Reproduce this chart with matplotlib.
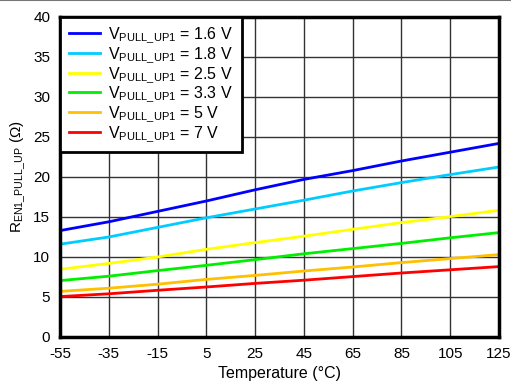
import numpy as np
import matplotlib.pyplot as plt

plt.rcParams['font.family'] = ['Liberation Sans', 'DejaVu Sans']
plt.rcParams['mathtext.fontset'] = 'custom'
plt.rcParams['mathtext.rm'] = 'Liberation Sans'
plt.rcParams['axes.unicode_minus'] = False

temps = [-55, -35, -15, 5, 25, 45, 65, 85, 105, 125]

r_1v6 = [13.3, 14.4, 15.7, 17.0, 18.4, 19.7, 20.8, 22.0, 23.1, 24.2]
r_1v8 = [11.6, 12.5, 13.7, 14.9, 16.0, 17.1, 18.25, 19.3, 20.3, 21.25]
r_2v5 = [8.46, 9.2, 10.0, 10.96, 11.8, 12.6, 13.46, 14.3, 15.05, 15.84]
r_3v3 = [7.05, 7.6, 8.3, 8.96, 9.67, 10.4, 11.05, 11.7, 12.4, 13.05]
r_5v = [5.7, 6.1, 6.6, 7.2, 7.7, 8.25, 8.75, 9.3, 9.8, 10.3]
r_7v = [5.05, 5.4, 5.84, 6.25, 6.7, 7.1, 7.55, 8.0, 8.4, 8.8]

labels = ['1.6 V', '1.8 V', '2.5 V', '3.3 V', '5 V', '7 V']
colors = ['#0000ff', '#00ccff', '#ffff00', '#00ee00', '#ffc000', '#ff0000']
series = [r_1v6, r_1v8, r_2v5, r_3v3, r_5v, r_7v]

fig = plt.figure(figsize=(5.11, 3.83), dpi=100)
ax = fig.add_axes([60 / 511, 1 - 337 / 383, 439 / 511, 320 / 383])

for vals, lab, col in zip(series, labels, colors):
    ax.plot(temps, vals, color=col, lw=2,
            label=r'V$_{\mathregular{PULL\_UP1}}$ = ' + lab)

ax.set_xlim(-55, 125)
ax.set_ylim(0, 40)
ax.set_xticks(temps)
ax.set_yticks(np.arange(0, 41, 5))
ax.tick_params(length=0, labelsize=11, pad=7)
ax.grid(True, color='#333333', lw=1)
for s in ax.spines.values():
    s.set_linewidth(2.5)

ax.set_xlabel('Temperature (°C)', fontsize=11.5, labelpad=4)
ax.set_ylabel(r'R$_{\mathregular{EN1\_PULL\_UP}}$ ($\Omega$)', fontsize=11, labelpad=4)

leg = ax.legend(loc='upper left', fontsize=11.5, handlelength=1.95,
                borderaxespad=0, fancybox=False, framealpha=1,
                labelspacing=0.0, borderpad=0.55, handletextpad=0.5)
leg.get_frame().set_edgecolor('black')
leg.get_frame().set_linewidth(2)

# thin gray frame line at top of image
fig.add_artist(plt.Line2D([0, 1], [0.999, 0.999], color='#777777', lw=1.5))

fig.savefig('out.png', dpi=100)
